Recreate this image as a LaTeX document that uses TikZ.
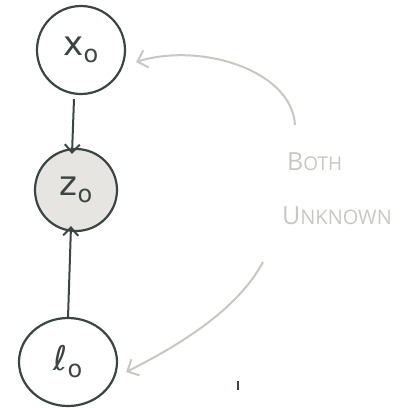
\documentclass[tikz,border=0pt]{standalone}
\usepackage{fontspec}
\setmainfont{Open Sans}
\newfontfamily\handfont{DejaVu Sans}[Scale=1]
\usetikzlibrary{arrows.meta,shapes.geometric}
\definecolor{ink}{HTML}{3B4644}
\definecolor{pale}{HTML}{C9C7C1}
\definecolor{shade}{HTML}{E6E5E2}
\newcommand{\subo}{\raisebox{-7pt}{\fontsize{24}{26}\selectfont o}}
\tikzset{
  var/.style={draw=ink, line width=2.2pt, circle, text=ink, font=\handfont\fontsize{34}{36}\selectfont, inner sep=0pt},
  edge/.style={draw=ink, line width=2pt, -{Straight Barb[length=8pt, width=15pt, line width=2pt]}},
  note/.style={draw=pale, line width=2pt, -{Straight Barb[length=9pt, width=18pt, line width=2pt]}},
  lbl/.style={text=pale, font=\fontsize{25}{27}\selectfont, anchor=west, inner sep=0pt}
}
\begin{document}
\begin{tikzpicture}[x=1pt, y=-1pt]
\useasboundingbox (0,0) rectangle (408,408);
% the three variables
\node[var, minimum size=88pt] (x) at (81,50) {x\subo};
\node[var, fill=shade, minimum size=82pt] (z) at (76,190) {z\subo};
\node[var, ellipse, minimum width=98pt, minimum height=88pt] (l) at (68,362) {ℓ\subo};
% dependencies
\draw[edge] ([xshift=-7pt,yshift=-4pt]x.south) -- ([xshift=-4pt,yshift=-6pt]z.north);
\draw[edge] ([yshift=-1pt]l.north) -- ([xshift=-5pt,yshift=6pt]z.south);
% annotation
\node[lbl] (both) at (287,162) {B{\fontsize{19}{21}\selectfont OTH}};
\node[lbl] (unk) at (282,216) {U{\fontsize{20}{22}\selectfont NKNOWN}};
\coordinate (ta) at (295,125);
\coordinate (tb) at (263,262);
\draw[note] (ta) .. controls (292,70) and (200,42) .. ([xshift=10pt,yshift=-12pt]x.east);
\draw[note] (tb) .. controls (240,305) and (190,340) .. ([xshift=8pt,yshift=-10pt]l.east);
% stray mark
\coordinate (m1) at (238,381);
\coordinate (m2) at (238,390);
\draw[ink, line width=1.6pt] (m1) -- (m2);
\end{tikzpicture}
\end{document}
